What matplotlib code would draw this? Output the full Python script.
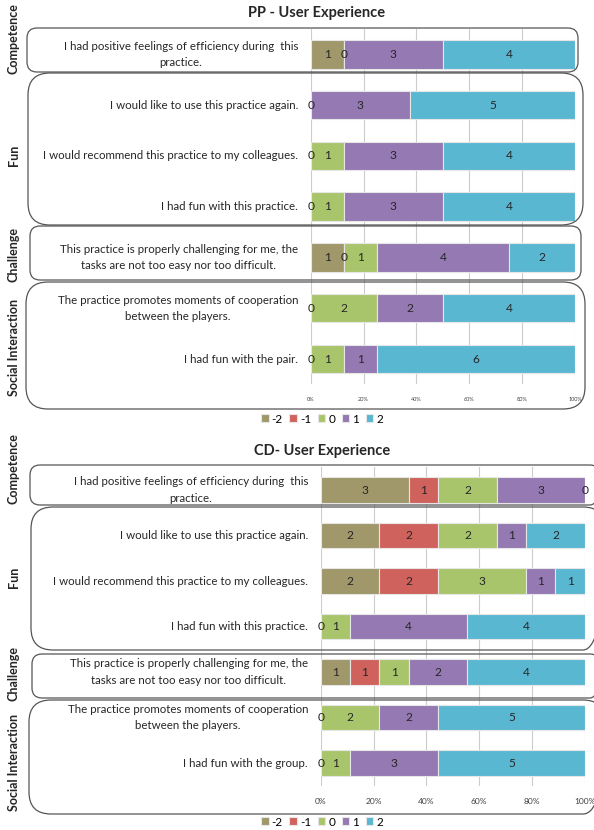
import numpy as np
import matplotlib
matplotlib.use("Agg")
import matplotlib.pyplot as plt
from matplotlib.patches import FancyBboxPatch

plt.rcParams["font.family"] = ["Lato", "DejaVu Sans"]

nan = np.nan
levels = ["-2", "-1", "0", "1", "2"]
level_colors = ["#A0976A", "#D0625D", "#A9C56C", "#9479B3", "#5AB7D1"]

# ---- PP panel ----
pp_title = "PP - User Experience"
pp_statements = [
    "I had positive feelings of efficiency during  this\npractice.",
    "I would like to use this practice again.",
    "I would recommend this practice to my colleagues.",
    "I had fun with this practice.",
    "This practice is properly challenging for me, the\ntasks are not too easy nor too difficult.",
    "The practice promotes moments of cooperation\nbetween the players.",
    "I had fun with the pair.",
]
pp_m2 = [1, nan, nan, nan, 1, nan, nan]
pp_m1 = [nan, nan, 0, 0, 0, 0, 0]
pp_z0 = [0, 0, 1, 1, 1, 2, 1]
pp_p1 = [3, 3, 3, 3, 4, 2, 1]
pp_p2 = [4, 5, 4, 4, 2, 4, 6]

# ---- CD panel ----
cd_title = "CD- User Experience"
cd_statements = [
    "I had positive feelings of efficiency during  this\npractice.",
    "I would like to use this practice again.",
    "I would recommend this practice to my colleagues.",
    "I had fun with this practice.",
    "This practice is properly challenging for me, the\ntasks are not too easy nor too difficult.",
    "The practice promotes moments of cooperation\nbetween the players.",
    "I had fun with the group.",
]
cd_m2 = [3, 2, 2, nan, 1, nan, nan]
cd_m1 = [1, 2, 2, 0, 1, 0, 0]
cd_z0 = [2, 2, 3, 1, 1, 2, 1]
cd_p1 = [3, 1, 1, 4, 2, 2, 3]
cd_p2 = [0, 2, 1, 4, 4, 5, 5]

dimensions = ["Competence", "Fun", "Challenge", "Social Interaction"]
pct_ticks = [0, 0.2, 0.4, 0.6, 0.8, 1.0]
pct_labels = ["0%", "20%", "40%", "60%", "80%", "100%"]

W, H = 594, 830
fig = plt.figure(figsize=(W / 100, H / 100), dpi=100)


def px_rect(x0, y0, x1, y1):
    return [x0 / W, 1 - y1 / H, (x1 - x0) / W, (y1 - y0) / H]


def stacked_panel(ax, statements, series, tick_size):
    counts = np.array(series, dtype=float)  # shape (levels, rows)
    totals = np.nansum(counts, axis=0)
    frac = counts / totals
    y = np.arange(len(statements))
    left = np.zeros(len(statements))
    handles = []
    for k, lev in enumerate(levels):
        w = np.nan_to_num(frac[k])
        h = ax.barh(y, w, left=left, height=0.56, color=level_colors[k],
                    edgecolor="#e6e6e6", linewidth=0.8, label=lev, zorder=2)
        handles.append(h)
        for i in range(len(y)):
            if np.isnan(counts[k, i]):
                continue
            ax.text(left[i] + w[i] / 2, y[i], f"{int(counts[k, i])}",
                    ha="center", va="center", fontsize=8.6, color="#262626",
                    zorder=3)
        left = left + w
    ax.set_xlim(0, 1)
    ax.set_ylim(len(statements) - 0.5, -0.5)
    ax.set_yticks([])
    ax.set_xticks(pct_ticks)
    ax.set_xticklabels(pct_labels, fontsize=tick_size, color="#404040")
    ax.tick_params(axis="x", length=0, pad=9)
    ax.xaxis.grid(True, color="#cccccc", linewidth=0.8, zorder=0)
    ax.set_axisbelow(True)
    for s in ax.spines.values():
        s.set_visible(False)
    for i, txt in enumerate(statements):
        ax.text(-0.048, y[i], txt, transform=ax.get_yaxis_transform(),
                ha="right", va="center", multialignment="center",
                fontsize=8.3, color="#262626", linespacing=1.6)
    return handles


ax_pp = fig.add_axes(px_rect(310.7, 29.0, 575.0, 384.4))
h_pp = stacked_panel(ax_pp, pp_statements,
                     [pp_m2, pp_m1, pp_z0, pp_p1, pp_p2], 4)

ax_cd = fig.add_axes(px_rect(320.7, 467.3, 584.7, 785.8))
h_cd = stacked_panel(ax_cd, cd_statements,
                     [cd_m2, cd_m1, cd_z0, cd_p1, cd_p2], 6)

# overlay in pixel units for the group frames, titles and side labels
ov = fig.add_axes([0, 0, 1, 1], zorder=5)
ov.set_xlim(0, W)
ov.set_ylim(H, 0)
ov.axis("off")
ov.patch.set_alpha(0)

frames = [
    (27, 28, 578, 72, 10), (28, 73, 583, 225, 22),
    (30, 226, 581, 280, 10), (26, 282, 585, 409, 22),
    (30, 465, 600, 505, 10), (31, 507, 605, 650, 22),
    (32, 654, 600, 698, 10), (29, 700, 605, 814, 22),
]
for x0, y0, x1, y1, r in frames:
    ov.add_patch(FancyBboxPatch((x0, y0), x1 - x0, y1 - y0,
                                boxstyle=f"round,pad=0,rounding_size={r}",
                                fill=False, edgecolor="#555555", linewidth=0.9))

side_pos = [(39, 155, 254, 347), (469, 577, 673, 762)]
for ys in side_pos:
    for name, yc in zip(dimensions, ys):
        ov.text(14, yc, name, rotation=90, ha="center", va="center",
                fontsize=9.0, fontweight="bold", color="#262626")

ov.text(317, 13, pp_title, ha="center", va="center", fontsize=10.5,
        fontweight="bold", color="#262626")
ov.text(322, 451, cd_title, ha="center", va="center", fontsize=10.5,
        fontweight="bold", color="#262626")

for handles, yl in ((h_pp, 419), (h_cd, 822)):
    fig.legend(handles=handles, labels=levels, loc="center",
               bbox_to_anchor=(322 / W, 1 - yl / H), ncol=5, frameon=False,
               fontsize=8.5, handlelength=0.65, handleheight=0.65,
               handletextpad=0.25, columnspacing=0.55, borderpad=0)

fig.savefig("out.png", dpi=100)
